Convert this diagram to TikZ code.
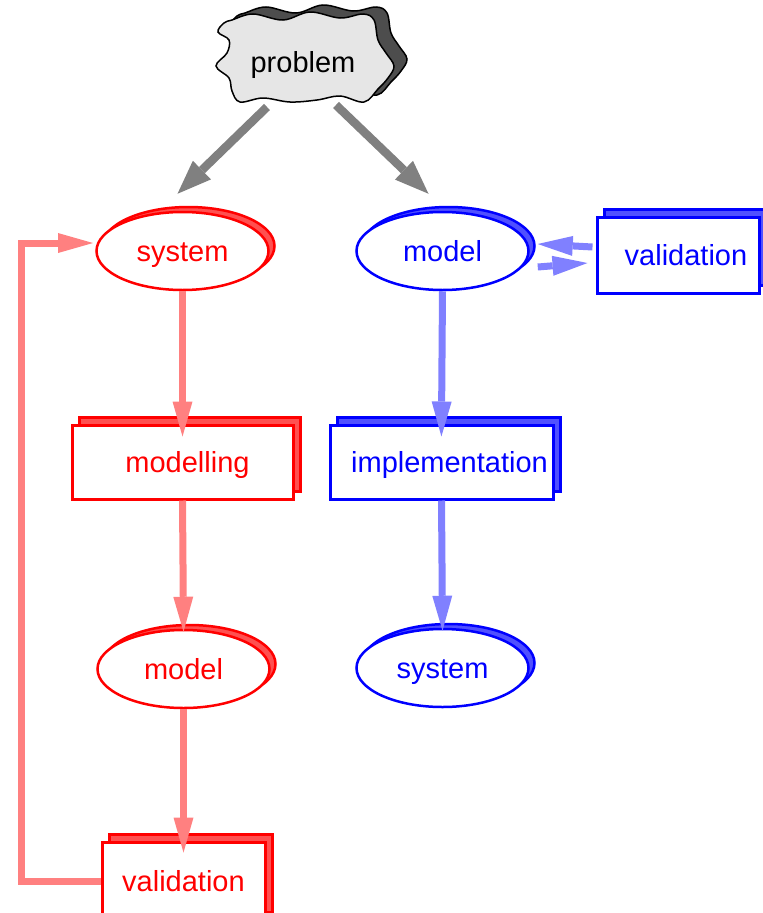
\documentclass[tikz,border=0pt]{standalone}
\usepackage{fontspec}
\setmainfont{Liberation Sans}
\usetikzlibrary{shapes.geometric,shadows,arrows.meta,calc}
\definecolor{redline}{RGB}{255,128,128}
\definecolor{blueline}{RGB}{128,128,255}
\definecolor{redshade}{RGB}{255,80,80}
\definecolor{blueshade}{RGB}{80,80,255}
\definecolor{cloudfill}{RGB}{230,230,230}
\definecolor{cloudshade}{RGB}{77,77,77}
\definecolor{arrowgray}{RGB}{128,128,128}
\begin{document}
\begin{tikzpicture}[x=1pt,y=-1pt,
  lbl/.style={font=\fontsize{29}{34}\selectfont, inner sep=0pt, text height=21pt, text depth=0pt},
  oval/.style={lbl, ellipse, draw=#1, text=#1, fill=white, line width=2.5pt,
    minimum width=172pt, minimum height=78pt,
    copy shadow={shadow xshift=6pt, shadow yshift=5pt, fill=#1shade, draw=#1, line width=2.5pt}},
  box/.style={lbl, rectangle, draw=#1, text=#1, fill=white, line width=3pt,
    copy shadow={shadow xshift=7pt, shadow yshift=8pt, fill=#1shade, draw=#1, line width=3pt}},
  flow/.style={draw=#1, line width=7pt,
    -{Triangle[length=35pt,width=20pt,line width=0pt]}},
  probarrow/.style={draw=arrowgray, line width=8.5pt,
    -{Triangle[length=34pt,width=26pt,line width=0pt]}},
]
\path[use as bounding box, clip] (0,0) rectangle (763,913);

% problem cloud with its dark shadow
\def\cloudpts{(232,20) (253,14) (283,20) (310,12) (340,18) (363,14) (374,20)
  (378,40) (386,53) (394,66) (388,78) (378,89)
  (364,102) (340,96) (317,100) (290,102) (263,98) (240,102) (232,91)
  (229,78) (216,66) (227,53) (229,40) (218,32) (224,23)}
\draw[fill=cloudshade, line width=1.5pt, shift={(13,-7)}]
  plot[smooth cycle, tension=0.6] coordinates {\cloudpts};
\draw[fill=cloudfill, line width=1.5pt]
  plot[smooth cycle, tension=0.6] coordinates {\cloudpts};
\node[lbl] (prob) at (303,62) {problem};

% left column: red
\node[oval=red] (sysR) at (182.5,251) {system};
\node[box=red, minimum width=221pt, minimum height=74pt] (modR) at (182.5,462) {\hspace*{10pt}modelling};
\node[oval=red] (modelR) at (183.5,669) {model};
\node[box=red, minimum width=163pt, minimum height=78pt] (valR) at (183.5,881) {validation};

% right column: blue
\node[oval=blue] (modelB) at (442.5,251) {model};
\node[box=blue, minimum width=162pt, minimum height=76pt] (valB) at (678,255) {\hspace*{16pt}validation};
\node[box=blue, minimum width=223pt, minimum height=74pt] (impl) at (441.5,462) {\hspace*{16pt}implementation};
\node[oval=blue] (sysB) at (442.5,668) {system};

% arrows out of the problem
\coordinate (pL) at ($(prob)+(-36,45)$);
\coordinate (pR) at ($(prob)+(33,43)$);
\coordinate (tL) at ($(sysR.north)+(-5,-17)$);
\coordinate (tR) at ($(modelB.north)+(-14,-17)$);
\draw[probarrow] (pL) -- (tL);
\draw[probarrow] (pR) -- (tR);

% red flow
\draw[flow=redline, shorten >=-13pt] (sysR.south) -- (modR.north);
\draw[flow=redline, shorten >=-3pt] (modR.south) -- (modelR.north);
\draw[flow=redline, shorten >=-12pt] (modelR.south) -- (valR.north);
\coordinate (fbCorner) at (21.5,243);
\coordinate (fbTip) at (93,243);
\draw[flow=redline, line join=miter] (valR.west) -| (fbCorner) -- (fbTip);

% blue flow
\draw[flow=blueline, shorten >=-13pt] (modelB.south) -- (impl.north);
\draw[flow=blueline, shorten >=-3pt] (impl.south) -- (sysB.north);
\coordinate (vIn) at ($(valB.west)+(-3,-8)$);
\coordinate (mIn) at ($(modelB.east)+(8,-7)$);
\coordinate (mOut) at ($(modelB.east)+(8,16)$);
\coordinate (vOut) at ($(valB.west)+(-8,8)$);
\draw[flow=blueline] (vIn) -- (mIn);
\draw[flow=blueline] (mOut) -- (vOut);
\end{tikzpicture}
\end{document}
